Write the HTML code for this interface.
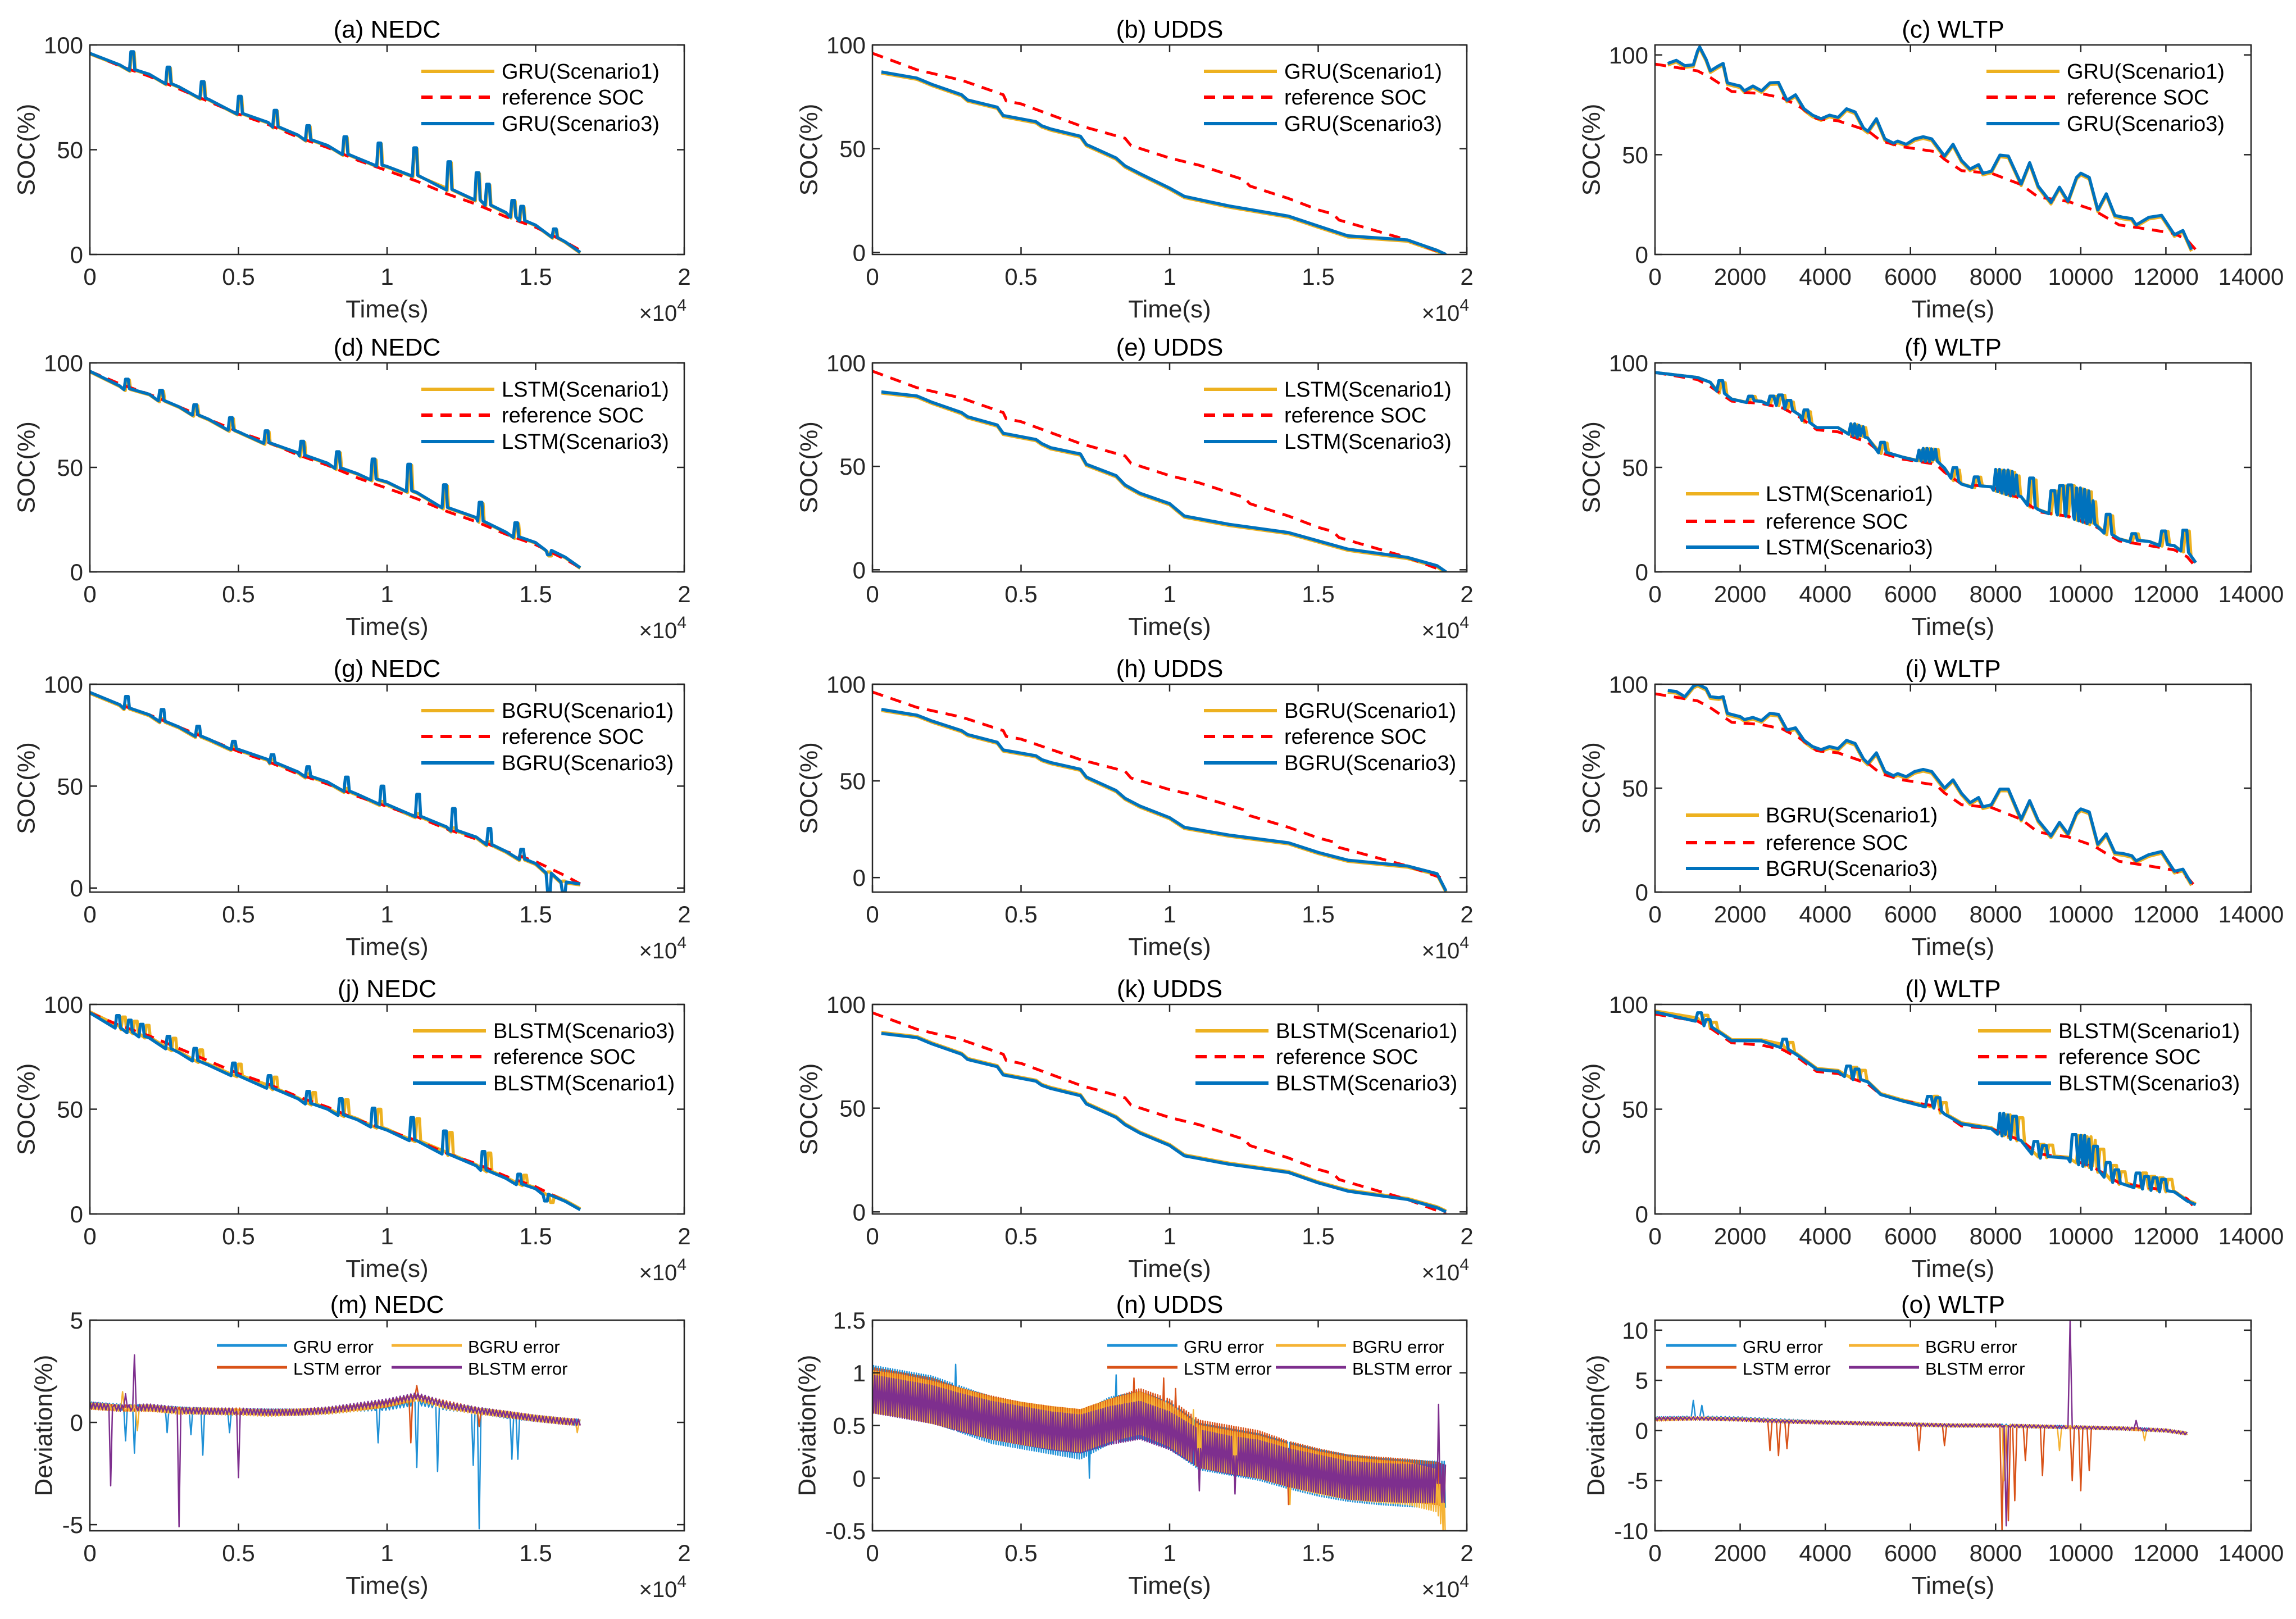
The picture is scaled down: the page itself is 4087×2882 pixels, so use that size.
<!DOCTYPE html>
<html><head><meta charset="utf-8"><style>
html,body{margin:0;padding:0;background:#fff;}
svg{display:block;font-family:"Liberation Sans",Arial,sans-serif;}
</style></head><body>
<svg id="fig" xmlns="http://www.w3.org/2000/svg" width="4087" height="2882" viewBox="0 0 4087 2882">
<rect x="0" y="0" width="4087" height="2882" fill="#fff"/>
</svg>
<script>
// ---------- DATA ----------
const nedcT = [0,1000,2000,3000,4000,5000,6000,7000,8000,9000,10000,11000,12000,13000,14000,15000,16000,16500];
const nedcRef = [96,90,85,79,73,67,62,56,51,45,40,35,29,24,18,13,6,2];
const aOff = [0,0.5,1,1,1,1,1,1,1,1,2,3,3,3,2,1,0,-1];
const aSpT = [1380,2600,3750,5000,6200,7300,8550,9700,10900,12050,13000,13350,14200,14500,15600];
const aSpH = [8,7,7,7.5,7,6,7.5,10,12.5,12.5,12,9,7,6,3];
const dOff = [0,-1,0,0,0,0,0,1,1,2,3,3,2,2,1,1,1,0];
const dSpT = [1200,2350,3500,4700,5900,7100,8300,9500,10700,11900,13100,14300,15400];
const dSpH = [4,4,4,5,5,6,7,9,12,10,8,6,-3];
const gOff = [0,0,0,0,0,1,1,1,1,1,1,1,1,1,0,-1,-3,0];
const gSpT = [1200,2400,3600,4800,6100,7300,8600,9800,11000,12200,13400,14500,15400,15900];
const gSpH = [5,5,4,3,3,4,6,8,10,10,7,4,-10,-6];
const gSpH1 = [1,1,1,1,1,1,1,1,1,1,1,1,0,0];
const jOff = [0,-1,-1,-2,-2,-1,-1,-1,-1,0,0,0,0,-1,-1,-1,0,0];
const jSpT = [900,1300,1700,2600,3500,4800,6000,7300,8400,9500,10800,11900,13200,14400,15300];
const jSpH = [5,5,5,5,5,5,5,5,7,8,10,10,8,4,-4];
const udRefT = [0,1500,3000,4400,4500,5000,7000,8500,8700,10000,11000,12500,12700,14000,15000,15500,15700,18000,19300];
const udRef = [96,88,83,76,73,71.6,61,55,51.5,45.5,42,35,32,26,20.5,18.5,15.6,6,-1];
const udT = [300,1500,2000,3000,3200,4200,4400,5500,5700,6000,7000,7200,8200,8500,9000,10000,10500,12000,14000,15000,16000,18000,19000,19300];
const udB = [87,84,81,76,73.5,70,66,63,61,59.5,56,52,45.5,41.7,38,31,27,22.4,17.5,12.7,8,6,1,-1];
const udE = [86,84,81,76,74,70,66,63,61,59,56,51,45.5,41,37,32,26,22,18,14,10,6,2,-1];
const udH = [87,84,81,76,74,70,66,63,61,59.5,56,52,45,41,37,31,26,22,18,13,9,6,2,-7];
const udK = [86,84,81,76,73.5,70,66,63,61,59.5,56,52,45.5,42,38,32,27,23,19,14,10,6,2,0];
const wlT = [0,1000,1300,1800,2500,3000,3400,3800,4300,5000,5300,5800,6600,6800,7200,7900,8600,9000,9700,10300,10900,11600,12200,12500,12700];
const wlRef = [95.4,92,88.7,81.7,80.6,78.4,74,68,67,62,57,54,51.5,47.7,42,40.7,35,28.8,26.6,22.3,14.8,12.6,10.5,7.2,2.4];
const cT = [300,500,700,900,1000,1050,1200,1300,1500,1600,1700,2000,2100,2300,2500,2700,2900,3100,3300,3500,3700,3900,4100,4300,4500,4700,4900,5000,5200,5400,5600,5700,5900,6100,6300,6500,6800,7000,7200,7400,7600,7700,7900,8100,8300,8600,8800,9000,9300,9500,9700,9900,10000,10200,10400,10600,10800,11000,11200,11300,11600,11900,12200,12400,12600];
const cV = [95.7,97.3,94.6,95,102,104,97.8,92,94.6,95.7,86,84.4,82,84.4,82,86,86.2,77.3,80,73,69.8,68,69.8,68.7,73,71.4,63.3,61.7,68,57.9,55.8,56.8,55.2,57.9,59,57.9,49.3,55.2,47.1,42.8,45,40.7,41.7,49.8,49.3,35.3,46,34.2,26.1,33.7,26.7,38.6,40.7,38.6,22.3,30.4,19.6,18.6,18,14.8,18.6,19.6,9.9,12,2.4];
const iV = [97,96.5,94,99,100,99.5,98,94,93.5,94,86,84.4,83,84,82.5,86,85.5,78,79,73,70,68.5,70,69,73,71.5,64,62,67,58,56,57,55.5,58,59,58,50,54,47.5,43,45.5,41,42,49.5,49.5,35,44,34.5,27,33.5,28,38,40,38.5,23,28,19,18.5,17.5,15,18,19.5,10,11,4];
const fOff = [0,1,2,1,1,2,1,1,2,2,1,1,2,2,0,0,1,1,1,1,1,2,2,3,2];
const fSpT = [1500,2200,2700,2900,3100,3500,4600,4700,4800,5300,6200,6300,6400,6500,7000,7500,8000,8100,8200,8300,8400,8800,9300,9500,9700,9900,10000,10100,10200,10600,11200,11900,12400];
const fSpH = [4,2,3,4,3,4,4,4,4,4,4,5,5,5,4,4,9,9,10,10,9,12,10,13,14,14,14,14,10,8,3,6,9];
const lOff = [1,1,1,1,2,2,1,1,1,1,0,0,0,0,1,0,0,-1,0,0,0,0,0,-1,2];
const lSpT = [1000,1200,3000,4500,4700,6400,6600,8100,8200,8400,8900,9100,9800,10000,10100,10300,10600,10800,11300,11500,11700,11900];
const lSpH = [3,2,3,4,4,4,4,9,9,10,5,5,12,13,12,10,6,5,6,5,5,5];
const mGRU = [0.85,0.75,0.7,0.6,0.55,0.5,0.5,0.5,0.55,0.7,0.75,1.0,0.75,0.6,0.35,0.2,0.05,0];
const mLSTM = [0.8,0.7,0.7,0.6,0.55,0.55,0.5,0.5,0.6,0.75,0.9,1.25,0.9,0.6,0.4,0.2,0.05,0];
const mBGRU = [0.8,0.7,0.7,0.55,0.55,0.5,0.45,0.5,0.55,0.7,0.9,1.2,0.8,0.55,0.4,0.2,0.05,0];
const mBLSTM = [0.85,0.7,0.75,0.6,0.55,0.55,0.5,0.5,0.6,0.8,1.0,1.3,0.85,0.6,0.4,0.2,0.05,0];
const mGRUspT = [1200,1500,2600,3400,3800,4700,9700,11000,11700,12900,13100,14200,14400];
const mGRUspV = [-0.9,-1.5,-0.5,-0.6,-1.6,-0.5,-1.0,-2.2,-2.4,-2.1,-5.2,-1.8,-1.8];
const mLSTMspT = [10800,11000,13100];
const mLSTMspV = [-1.0,1.8,-0.2];
const mBGRUspT = [1100,1600,16400];
const mBGRUspV = [1.5,-0.4,-0.5];
const mBLSTMspT = [700,1200,1500,3000,5000];
const mBLSTMspV = [-3.1,1.4,3.3,-5.1,-2.7];
const nT = [0,1000,2000,3000,4000,5000,6000,7000,8000,9000,10000,11000,12000,13000,14000,15000,16000,17000,18000,19000,19300];
const nGRU = [0.85,0.8,0.75,0.65,0.55,0.5,0.45,0.4,0.55,0.6,0.5,0.3,0.25,0.2,0.12,0.05,0,-0.03,-0.05,-0.06,-0.06];
const nLSTM = [0.85,0.8,0.75,0.65,0.58,0.52,0.48,0.45,0.55,0.65,0.55,0.35,0.3,0.25,0.15,0.08,0.02,0,-0.02,-0.05,-0.08];
const nBGRU = [0.82,0.78,0.72,0.65,0.57,0.52,0.48,0.45,0.55,0.62,0.5,0.3,0.25,0.2,0.12,0.05,0,-0.03,-0.05,-0.12,-0.4];
const nBLSTM = [0.8,0.75,0.7,0.62,0.55,0.5,0.45,0.42,0.5,0.55,0.45,0.28,0.22,0.18,0.1,0.04,-0.02,-0.04,-0.05,-0.05,-0.05];
const nGRUspT = [2800,8200,7300];
const nGRUspV = [1.08,0.98,0.0];
const nLSTMspT = [8800,9800,10200,14000];
const nLSTMspV = [0.95,0.95,0.85,-0.25];
const nBGRUspT = [14050,10800];
const nBGRUspV = [-0.25,0.65];
const nBLSTMspT = [11000,12200,19050];
const nBLSTMspV = [-0.12,-0.15,0.7];
const oT = [0,1000,2000,3000,4000,5000,6000,7000,8000,9000,10000,11000,12000,12500];
const oGRU = [1.2,1.3,1.2,1.0,0.8,0.7,0.6,0.5,0.5,0.4,0.3,0.2,0,-0.3];
const oLSTM = [1.1,1.2,1.1,0.9,0.8,0.7,0.6,0.5,0.5,0.4,0.3,0.2,0,-0.3];
const oBGRU = [1.1,1.2,1.1,0.9,0.8,0.7,0.6,0.5,0.5,0.4,0.3,0.2,0,-0.3];
const oBLSTM = [1.2,1.2,1.1,0.9,0.8,0.7,0.6,0.5,0.5,0.4,0.3,0.2,0,-0.3];
const oGRUspT = [900,1100];
const oGRUspV = [3.0,2.5];
const oLSTMspT = [2700,2900,3100,6200,6800,8150,8300,8450,8700,9100,9800,10000,10200];
const oLSTMspV = [-2,-2.5,-1.8,-2,-1.5,-10,-9,-7,-3,-4.5,-5,-6,-4];
const oBGRUspT = [8200,9500,11500];
const oBGRUspV = [-5,-2,-1];
const oBLSTMspT = [8250,9750,11300];
const oBLSTMspV = [-9.5,11,1];
const xTickE4 = [0,5000,10000,15000,20000];
const xTickE4Labels = ['0','0.5','1','1.5','2'];
const xTickW = [0,2000,4000,6000,8000,10000,12000,14000];
const xTickWLabels = ['0','2000','4000','6000','8000','10000','12000','14000'];
const ySocTicks = [0,50,100];
const ymTicks = [-5,0,5];
const ynTicks = [-0.5,0,0.5,1,1.5];
const ynLabels = ['-0.5','0','0.5','1','1.5'];
const yoTicks = [-10,-5,0,5,10];

// ---------- HELPERS ----------
const NS = 'http://www.w3.org/2000/svg';
const svg = document.getElementById('fig');
function el(tag, attrs, parent){ const e=document.createElementNS(NS,tag); for(const k in attrs) e.setAttribute(k,attrs[k]); (parent||svg).appendChild(e); return e; }
function interp(ts, vs, t){
  if(t<=ts[0]) return vs[0];
  for(let i=1;i<ts.length;i++){ if(t<=ts[i]){ const f=(t-ts[i-1])/(ts[i]-ts[i-1]); return vs[i-1]+f*(vs[i]-vs[i-1]); } }
  return vs[vs.length-1];
}
function socSeries(gT, gV, off, spT, spH, shift, dx){
  const base = t => interp(gT,gV,t)+interp(gT,off,t)+shift;
  let pts = [];
  for(let i=0;i<gT.length;i++){ const t=gT[i]; let inside=false; spT.forEach(T=>{ if(t>=T+dx-60 && t<=T+dx+150) inside=true; }); if(!inside) pts.push([t,base(t)]); }
  for(let k=0;k<spT.length;k++){ const T=spT[k]+dx; const b=base(T);
    pts.push([T-50,b-1],[T,b+spH[k]],[T+90,b+spH[k]],[T+130,base(T+130)]); }
  pts.sort((a,b)=>a[0]-b[0]); return pts;
}
function arrSeries(ts, vs, shift){ return ts.map((t,i)=>[t,vs[i]+shift]); }
function errSeries(gT, center, w, step, spT, spV, phase){
  let pts=[]; let i=phase||0;
  for(let t=gT[0]; t<=gT[gT.length-1]; t+=step, i++){
    let inside=false; spT.forEach(T=>{ if(Math.abs(t-T)<step*1.5) inside=true; });
    if(!inside) pts.push([t, interp(gT,center,t)+(i%2?w:-w)]);
  }
  for(let k=0;k<spT.length;k++){ const T=spT[k]; const b=interp(gT,center,T);
    pts.push([T-step,b],[T,spV[k]],[T+step,b]); }
  pts.sort((a,b)=>a[0]-b[0]); return pts;
}

const COLL=[160,1553,2946], COLR=[1218,2611,4007];
const ROWT=[80,646,1218,1788,2350], ROWB=[453,1018,1588,2161,2725];
const BLUE='#0072BD', ORANGE='#EDB120', RED='#FF0000', LORANGE='#D95319', PURPLE='#7E2F8E', EBLUE='#1E90D6', EYEL='#F5B335';

function drawPanel(p, idx){
  const L=COLL[p.col], R=COLR[p.col], T=ROWT[p.row], B=ROWB[p.row];
  const xr=p.xr, yr=p.yr;
  const X = t => L+(t-xr[0])/(xr[1]-xr[0])*(R-L);
  const Y = v => B-(v-yr[0])/(yr[1]-yr[0])*(B-T);
  const g=el('g',{});
  
  
  const cp=el('clipPath',{id:'cp'+idx},g); el('rect',{x:L,y:T,width:R-L,height:B-T},cp);
  const plot=el('g',{'clip-path':'url(#cp'+idx+')'},g);
  
  
  p.series.forEach(s=>{
    const d=s.pts.map((q,i)=>(i?'L':'M')+X(q[0]).toFixed(1)+' '+Y(q[1]).toFixed(1)).join('');
    const path=el('path',{d:d,fill:'none',stroke:s.color,'stroke-width':s.w,'stroke-linejoin':'round','stroke-dasharray':s.dash||'none'},plot);
    
    
  });
  const box=el('rect',{x:L,y:T,width:R-L,height:B-T,fill:'none',stroke:'#262626','stroke-width':2.5},g);
  
  
  p.xt.forEach((t,i)=>{
    const x=X(t);
    el('line',{x1:x,y1:B,x2:x,y2:B-13,stroke:'#262626','stroke-width':2.5},g);
    el('line',{x1:x,y1:T,x2:x,y2:T+13,stroke:'#262626','stroke-width':2.5},g);
    const tx=el('text',{x:x,y:B+54,'font-size':42,'text-anchor':'middle',fill:'#262626'},g);
    tx.textContent=p.xl[i];
    
    
  });
  p.yt.forEach((v,i)=>{
    const y=Y(v);
    el('line',{x1:L,y1:y,x2:L+13,y2:y,stroke:'#262626','stroke-width':2.5},g);
    el('line',{x1:R,y1:y,x2:R-13,y2:y,stroke:'#262626','stroke-width':2.5},g);
    const tx=el('text',{x:L-12,y:y+15,'font-size':42,'text-anchor':'end',fill:'#262626'},g);
    tx.textContent=p.yl[i];
    
    
  });
  const ti=el('text',{x:(L+R)/2,y:T-13,'font-size':44,'text-anchor':'middle',fill:'#000'},g);
  ti.textContent=p.title;
  
  
  const xl=el('text',{x:(L+R)/2,y:B+112,'font-size':44,'text-anchor':'middle',fill:'#262626'},g);
  xl.textContent='Time(s)';
  
  
  if(p.col<2){
    const ex=el('text',{x:R+4,y:B+118,'font-size':40,'text-anchor':'end',fill:'#262626'},g);
    ex.innerHTML='×10<tspan dy="-18" font-size="30">4</tspan>';
    
    
  }
  const yc=(T+B)/2, yx=L-p.ylOff;
  const yl=el('text',{x:yx,y:yc,'font-size':44,'text-anchor':'middle','dominant-baseline':'central',transform:'rotate(-90 '+yx+' '+yc+')',fill:'#262626'},g);
  yl.textContent=p.ylabel;
  
  
  const lg=el('g',{},g);
  
  
  p.legend.forEach(it=>{
    const y=T+it.dy;
    const ln=el('line',{x1:L+it.x1,y1:y,x2:L+it.x2,y2:y,stroke:it.color,'stroke-width':it.w,'stroke-dasharray':it.dash||'none'},lg);
    
    
    const tx=el('text',{x:L+it.tx,y:y+13,'font-size':it.fs,fill:'#000'},lg);
    tx.textContent=it.label;
    
    
  });
}

function socLegend(n1,n3,pos,wide){
  const x1=pos==='ll'?55:(wide?575:590), x2=pos==='ll'?185:(wide?705:720), tx=pos==='ll'?197:(wide?718:733);
  const d=pos==='ll'?[233,282,328]:[47,93,140];
  return [
    {label:n1,color:ORANGE,w:6,x1:x1,x2:x2,tx:tx,dy:d[0],fs:38},
    {label:'reference SOC',color:RED,w:6,dash:'20 14',x1:x1,x2:x2,tx:tx,dy:d[1],fs:38},
    {label:n3,color:BLUE,w:6,x1:x1,x2:x2,tx:tx,dy:d[2],fs:38}];
}
function socSet(s1,ref,s3,n1,n3){
  return [{name:'series-'+n1.toLowerCase().replace(/[()]/g,'-'),pts:s1,color:ORANGE,w:5.5},
          {name:'reference-soc',pts:ref,color:RED,w:5,dash:'20 14'},
          {name:'series-'+n3.toLowerCase().replace(/[()]/g,'-'),pts:s3,color:BLUE,w:5.5}];
}
function errLegend(o){
  const a=o[0],b=o[1];
  return [
    {label:'GRU error',color:EBLUE,w:5,x1:a,x2:a+125,tx:a+136,dy:45,fs:31},
    {label:'BGRU error',color:EYEL,w:5,x1:b,x2:b+125,tx:b+136,dy:45,fs:31},
    {label:'LSTM error',color:LORANGE,w:5,x1:a,x2:a+125,tx:a+136,dy:84,fs:31},
    {label:'BLSTM error',color:PURPLE,w:5,x1:b,x2:b+125,tx:b+136,dy:84,fs:31}];
}
function errSet(g,l,bg,bl){
  return [{name:'gru-error',pts:g,color:EBLUE,w:2.5},{name:'lstm-error',pts:l,color:LORANGE,w:2.5},
          {name:'bgru-error',pts:bg,color:EYEL,w:2.5},{name:'blstm-error',pts:bl,color:PURPLE,w:2.5}];
}
const socY = ySocTicks.map(String);
const E4 = {xr:[0,20000],xt:xTickE4,xl:xTickE4Labels};
const WL = {xr:[0,14000],xt:xTickW,xl:xTickWLabels};
const refN = arrSeries(nedcT,nedcRef,0), refU = arrSeries(udRefT,udRef,0), refW = arrSeries(wlT,wlRef,0);

const panels = [
 Object.assign({name:'panel-a-nedc',col:0,row:0,title:'(a) NEDC',yr:[0,100],yt:ySocTicks,yl:socY,ylabel:'SOC(%)',ylOff:113,
   series:socSet(socSeries(nedcT,nedcRef,aOff,aSpT,aSpH,-0.3,20),refN,socSeries(nedcT,nedcRef,aOff,aSpT,aSpH,0,0),'GRU(Scenario1)','GRU(Scenario3)'),
   legend:socLegend('GRU(Scenario1)','GRU(Scenario3)')},E4),
 Object.assign({name:'panel-b-udds',col:1,row:0,title:'(b) UDDS',yr:[-1,100],yt:ySocTicks,yl:socY,ylabel:'SOC(%)',ylOff:113,
   series:socSet(arrSeries(udT,udB,-0.6),refU,arrSeries(udT,udB,0),'GRU(Scenario1)','GRU(Scenario3)'),
   legend:socLegend('GRU(Scenario1)','GRU(Scenario3)')},E4),
 Object.assign({name:'panel-c-wltp',col:2,row:0,title:'(c) WLTP',yr:[0,105],yt:ySocTicks,yl:socY,ylabel:'SOC(%)',ylOff:113,
   series:socSet(arrSeries(cT,cV,-0.8),refW,arrSeries(cT,cV,0),'GRU(Scenario1)','GRU(Scenario3)'),
   legend:socLegend('GRU(Scenario1)','GRU(Scenario3)')},WL),
 Object.assign({name:'panel-d-nedc',col:0,row:1,title:'(d) NEDC',yr:[0,100],yt:ySocTicks,yl:socY,ylabel:'SOC(%)',ylOff:113,
   series:socSet(socSeries(nedcT,nedcRef,dOff,dSpT,dSpH,-0.3,40),refN,socSeries(nedcT,nedcRef,dOff,dSpT,dSpH,0,0),'LSTM(Scenario1)','LSTM(Scenario3)'),
   legend:socLegend('LSTM(Scenario1)','LSTM(Scenario3)')},E4),
 Object.assign({name:'panel-e-udds',col:1,row:1,title:'(e) UDDS',yr:[-1,100],yt:ySocTicks,yl:socY,ylabel:'SOC(%)',ylOff:113,
   series:socSet(arrSeries(udT,udE,-0.6),refU,arrSeries(udT,udE,0),'LSTM(Scenario1)','LSTM(Scenario3)'),
   legend:socLegend('LSTM(Scenario1)','LSTM(Scenario3)')},E4),
 Object.assign({name:'panel-f-wltp',col:2,row:1,title:'(f) WLTP',yr:[0,100],yt:ySocTicks,yl:socY,ylabel:'SOC(%)',ylOff:113,
   series:socSet(socSeries(wlT,wlRef,fOff,fSpT,fSpH,0,60),refW,socSeries(wlT,wlRef,fOff,fSpT,fSpH,0,0),'LSTM(Scenario1)','LSTM(Scenario3)'),
   legend:socLegend('LSTM(Scenario1)','LSTM(Scenario3)','ll')},WL),
 Object.assign({name:'panel-g-nedc',col:0,row:2,title:'(g) NEDC',yr:[-2,100],yt:ySocTicks,yl:socY,ylabel:'SOC(%)',ylOff:113,
   series:socSet(socSeries(nedcT,nedcRef,gOff,gSpT,gSpH1,-0.5,0),refN,socSeries(nedcT,nedcRef,gOff,gSpT,gSpH,0,0),'BGRU(Scenario1)','BGRU(Scenario3)'),
   legend:socLegend('BGRU(Scenario1)','BGRU(Scenario3)')},E4),
 Object.assign({name:'panel-h-udds',col:1,row:2,title:'(h) UDDS',yr:[-7.5,100],yt:ySocTicks,yl:socY,ylabel:'SOC(%)',ylOff:113,
   series:socSet(arrSeries(udT,udH,-0.6),refU,arrSeries(udT,udH,0),'BGRU(Scenario1)','BGRU(Scenario3)'),
   legend:socLegend('BGRU(Scenario1)','BGRU(Scenario3)')},E4),
 Object.assign({name:'panel-i-wltp',col:2,row:2,title:'(i) WLTP',yr:[0,100],yt:ySocTicks,yl:socY,ylabel:'SOC(%)',ylOff:113,
   series:socSet(arrSeries(cT,iV,-0.8),refW,arrSeries(cT,iV,0),'BGRU(Scenario1)','BGRU(Scenario3)'),
   legend:socLegend('BGRU(Scenario1)','BGRU(Scenario3)','ll')},WL),
 Object.assign({name:'panel-j-nedc',col:0,row:3,title:'(j) NEDC',yr:[0,100],yt:ySocTicks,yl:socY,ylabel:'SOC(%)',ylOff:113,
   series:socSet(socSeries(nedcT,nedcRef,jOff,jSpT,jSpH,0.5,200),refN,socSeries(nedcT,nedcRef,jOff,jSpT,jSpH,0,0),'BLSTM(Scenario3)','BLSTM(Scenario1)'),
   legend:socLegend('BLSTM(Scenario3)','BLSTM(Scenario1)','ur',true)},E4),
 Object.assign({name:'panel-k-udds',col:1,row:3,title:'(k) UDDS',yr:[-1,100],yt:ySocTicks,yl:socY,ylabel:'SOC(%)',ylOff:113,
   series:socSet(arrSeries(udT,udK,0.5),refU,arrSeries(udT,udK,0),'BLSTM(Scenario1)','BLSTM(Scenario3)'),
   legend:socLegend('BLSTM(Scenario1)','BLSTM(Scenario3)','ur',true)},E4),
 Object.assign({name:'panel-l-wltp',col:2,row:3,title:'(l) WLTP',yr:[0,100],yt:ySocTicks,yl:socY,ylabel:'SOC(%)',ylOff:113,
   series:socSet(socSeries(wlT,wlRef,lOff,lSpT,lSpH,0.5,150),refW,socSeries(wlT,wlRef,lOff,lSpT,lSpH,0,0),'BLSTM(Scenario1)','BLSTM(Scenario3)'),
   legend:socLegend('BLSTM(Scenario1)','BLSTM(Scenario3)','ur',true)},WL),
 Object.assign({name:'panel-m-nedc-deviation',col:0,row:4,title:'(m) NEDC',yr:[-5.3,5],yt:ymTicks,yl:ymTicks.map(String),ylabel:'Deviation(%)',ylOff:82,
   series:errSet(errSeries(nedcT,mGRU,0.15,60,mGRUspT,mGRUspV,0),errSeries(nedcT,mLSTM,0.15,60,mLSTMspT,mLSTMspV,1),errSeries(nedcT,mBGRU,0.15,60,mBGRUspT,mBGRUspV,0),errSeries(nedcT,mBLSTM,0.15,60,mBLSTMspT,mBLSTMspV,1)),
   legend:errLegend([226,537])},E4),
 Object.assign({name:'panel-n-udds-deviation',col:1,row:4,title:'(n) UDDS',yr:[-0.5,1.5],yt:ynTicks,yl:ynLabels,ylabel:'Deviation(%)',ylOff:116,
   series:errSet(errSeries(nT,nGRU,0.22,40,nGRUspT,nGRUspV,0),errSeries(nT,nLSTM,0.2,40,nLSTMspT,nLSTMspV,1),errSeries(nT,nBGRU,0.2,40,nBGRUspT,nBGRUspV,0),errSeries(nT,nBLSTM,0.18,40,nBLSTMspT,nBLSTMspV,1)),
   legend:errLegend([418,718])},E4),
 Object.assign({name:'panel-o-wltp-deviation',col:2,row:4,title:'(o) WLTP',yr:[-10,11],yt:yoTicks,yl:yoTicks.map(String),ylabel:'Deviation(%)',ylOff:105,
   series:errSet(errSeries(oT,oGRU,0.15,50,oGRUspT,oGRUspV,0),errSeries(oT,oLSTM,0.15,50,oLSTMspT,oLSTMspV,1),errSeries(oT,oBGRU,0.15,50,oBGRUspT,oBGRUspV,0),errSeries(oT,oBLSTM,0.15,50,oBLSTMspT,oBLSTMspV,1)),
   legend:errLegend([20,345])},WL)
];
panels.forEach((p,i)=>drawPanel(p,i));
</script>
</body></html>
